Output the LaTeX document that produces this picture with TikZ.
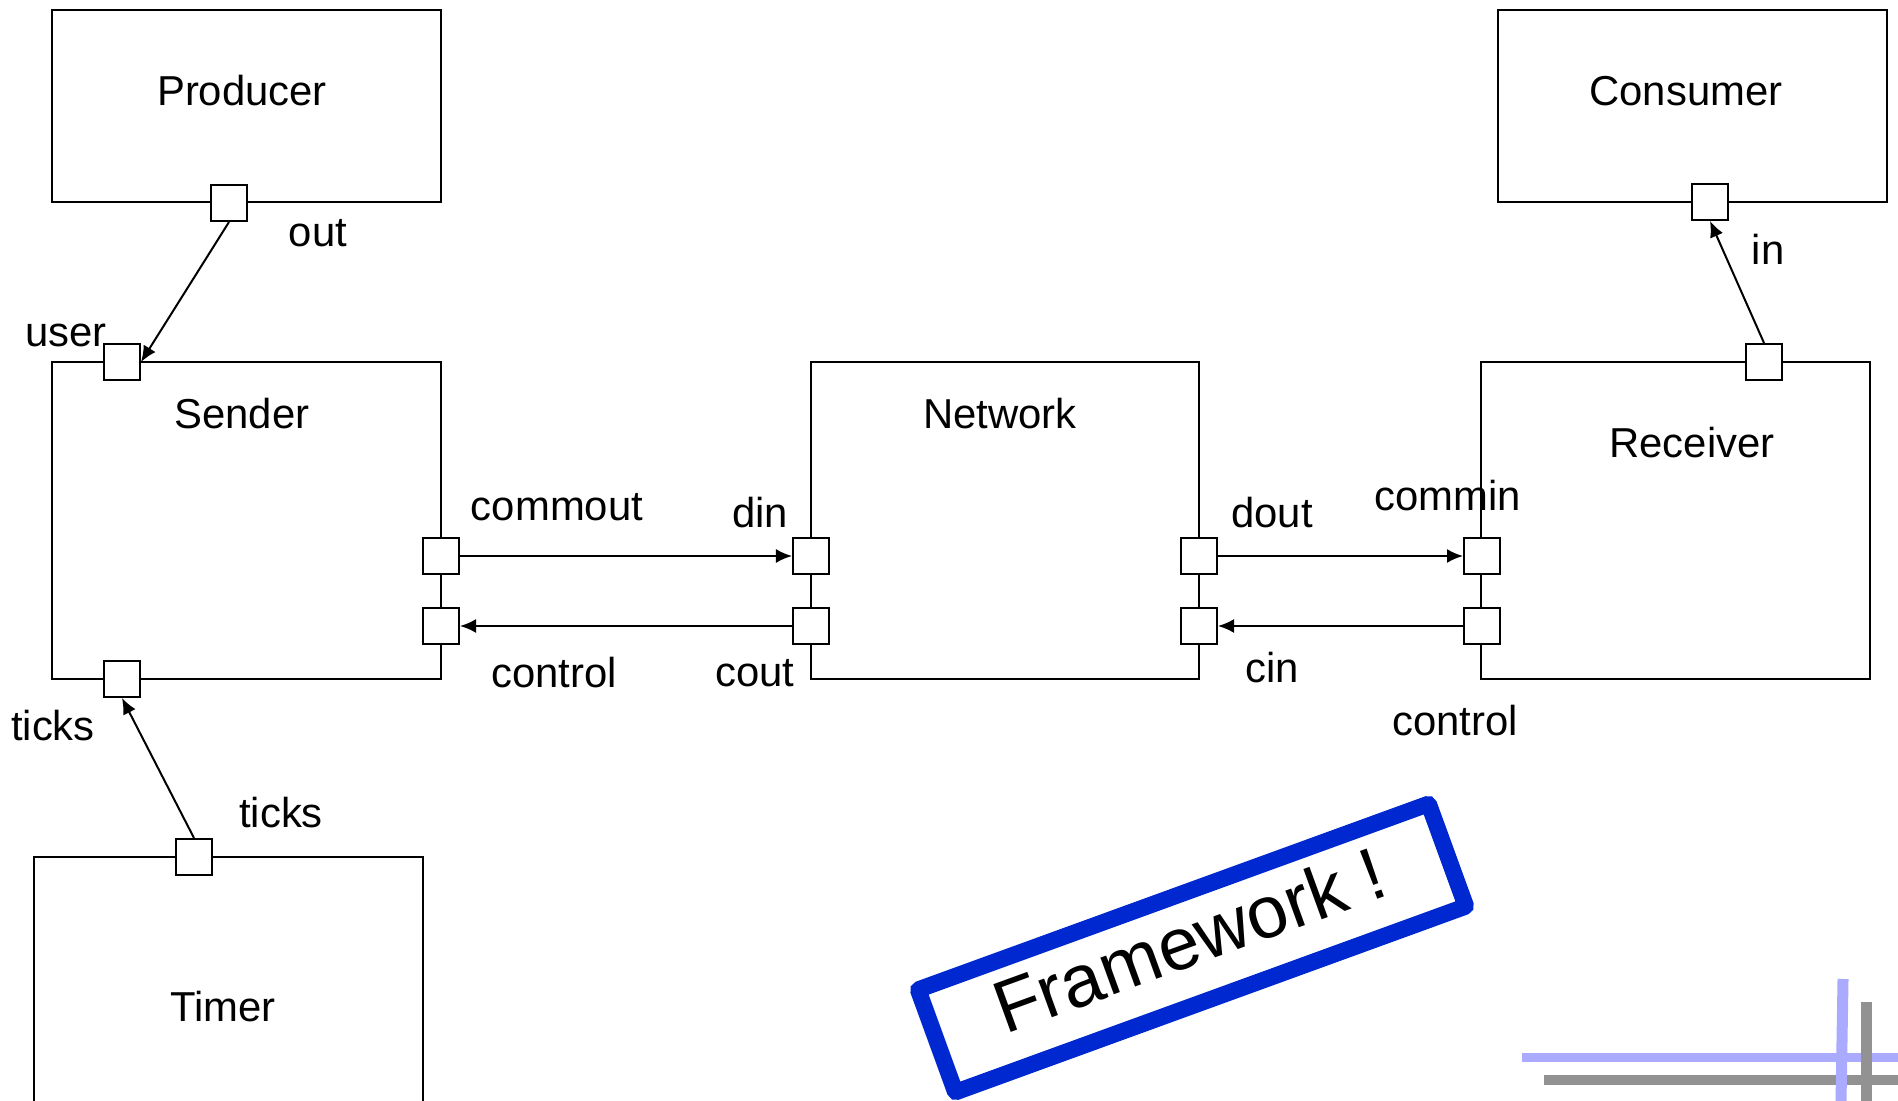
\documentclass[tikz,border=0pt]{standalone}
\usepackage{fontspec}
\setmainfont{Liberation Sans}
\usetikzlibrary{arrows.meta,positioning}

\definecolor{stampblue}{RGB}{0,40,208}
\definecolor{lineblue}{RGB}{170,170,255}
\definecolor{linegrey}{RGB}{146,146,146}

\begin{document}
\begin{tikzpicture}[x=0.01cm, y=-0.01cm,
    block/.style={draw=black, line width=0.02cm, minimum width=3.88cm, inner sep=0pt},
    port/.style={draw=black, fill=white, line width=0.02cm, minimum size=0.36cm, inner sep=0pt},
    lbl/.style={font=\fontsize{11.9}{14}\selectfont, inner sep=0pt},
    conn/.style={-{Latex[length=0.16cm,width=0.14cm]}, line width=0.02cm},
    stamp/.style={draw=stampblue, line width=0.165cm, rounded corners=0.02cm, minimum width=5.43cm,
        minimum height=1.09cm, text depth=0.18cm, font=\fontsize{21}{25}\selectfont, rotate=20},
    deco/.style={line width=0.1cm}]

\clip (0,0) rectangle (1898,1101);

% components
\node[block, minimum height=1.92cm] (producer) at (246.5,106) {};
\node[block, minimum height=1.92cm] (consumer) at (1692.5,106) {};
\node[block, minimum height=3.17cm] (sender) at (246.5,520.5) {};
\node[block, minimum height=3.17cm] (network) at (1005,520.5) {};
\node[block, minimum height=3.17cm] (receiver) at (1675.5,520.5) {};
\node[block, minimum height=3.17cm] (timer) at (228.5,1015.5) {};

\node[lbl] at (242,91) {Producer};
\node[lbl] at (1686,91) {Consumer};
\node[lbl] at (242,414) {Sender};
\node[lbl] at (1000,414) {Network};
\node[lbl] at (1692,443) {Receiver};
\node[lbl] at (223,1007) {Timer};

% ports
\node[port] (out) at (229,203) {};
\node[port] (in) at (1710,202) {};
\node[port] (user) at (122,362) {};
\node[port] (sticks) at (122,679) {};
\node[port] (commout) at (441,556) {};
\node[port] (sctrl) at (441,626) {};
\node[port] (din) at (811,556) {};
\node[port] (cout) at (811,626) {};
\node[port] (dout) at (1199,556) {};
\node[port] (cin) at (1199,626) {};
\node[port] (commin) at (1482,556) {};
\node[port] (rctrl) at (1482,626) {};
\node[port] (rout) at (1764,362) {};
\node[port] (tticks) at (194,857) {};

% port names
\node[lbl] at (318,233) {out};
\node[lbl] at (66,335) {user};
\node[lbl] at (53,726) {ticks};
\node[lbl] at (281,813) {ticks};
\node[lbl] at (1768,249) {in};
\node[lbl] at (557,507) {commout};
\node[lbl] at (760,513) {din};
\node[lbl] at (554,673) {control};
\node[lbl] at (755,673) {cout};
\node[lbl] at (1272,513) {dout};
\node[lbl] at (1448,496) {commin};
\node[lbl] at (1272,668) {cin};
\node[lbl] at (1455,721) {control};

% connections
\draw[conn] (out.south) -- (user.east);
\draw[conn] (tticks.north) -- (sticks.south);
\draw[conn] (rout.north) -- (in.south);
\draw[conn] (commout.east) -- (din.west);
\draw[conn] (cout.west) -- (sctrl.east);
\draw[conn] (dout.east) -- (commin.west);
\draw[conn] (rctrl.west) -- (cin.east);

% stamp
\node[stamp] (fw) at (1192,948) {Framework !};

% corner mark
\draw[deco, linegrey] (1544,1080) -- (1898,1080);
\draw[deco, lineblue, line width=0.09cm] (1522,1057) -- (1898,1057);
\draw[deco, lineblue, line width=0.11cm] (1843,979) -- (1841,1101);
\draw[deco, linegrey, line width=0.11cm] (1866,1002) -- (1866,1101);
\end{tikzpicture}
\end{document}
